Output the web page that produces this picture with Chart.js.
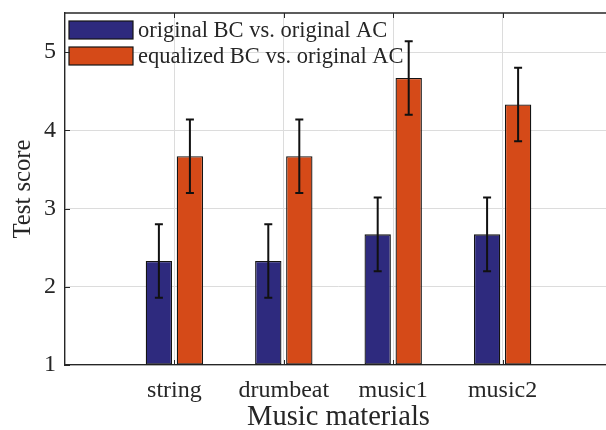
<!DOCTYPE html>
<html>
<head>
<meta charset="utf-8">
<script src="https://cdn.jsdelivr.net/npm/chart.js@4.4.1/dist/chart.umd.min.js"></script>
<style>
  html, body { margin: 0; padding: 0; background: #ffffff; overflow: hidden; }
  #wrap { position: relative; width: 620px; height: 430px; }
</style>
</head>
<body>
<div id="wrap"><canvas id="c"></canvas></div>
<script>
// ---- data ----
const categories = ['string', 'drumbeat', 'music1', 'music2'];
const seriesNames = ['original BC vs. original AC', 'equalized BC vs. original AC'];
const originalBC = [2.33, 2.33, 2.67, 2.67];
const equalizedBC = [3.67, 3.67, 4.67, 4.33];
const originalErr = [0.47, 0.47, 0.47, 0.47];
const equalizedErr = [0.47, 0.47, 0.47, 0.47];
const yTicks = [1, 2, 3, 4, 5];

// x axis spans 0..5 with categories at 1..4 (empty slots at both ends)
const xLabels = [''].concat(categories, ['']);
const pad = arr => [null].concat(arr, [null]);

const FONT = "'Liberation Serif', 'Times New Roman', serif";
const INK = '#262626';

const errorBars = {
  id: 'errorBars',
  afterDatasetsDraw(chart) {
    const ctx = chart.ctx;
    const y = chart.scales.y;
    ctx.save();
    ctx.strokeStyle = '#111111';
    ctx.lineWidth = 2;
    chart.data.datasets.forEach((ds, di) => {
      const meta = chart.getDatasetMeta(di);
      meta.data.forEach((el, i) => {
        const v = ds.data[i];
        const e = ds.errors[i];
        if (v == null || e == null) return;
        const x = el.x;
        const yt = y.getPixelForValue(v + e);
        const yb = y.getPixelForValue(v - e);
        const cap = 4;
        ctx.beginPath();
        ctx.moveTo(x, yt); ctx.lineTo(x, yb);
        ctx.moveTo(x - cap, yt); ctx.lineTo(x + cap, yt);
        ctx.moveTo(x - cap, yb); ctx.lineTo(x + cap, yb);
        ctx.stroke();
      });
    });
    ctx.restore();
  }
};

// legend drawn inside the axes (top-left), from the datasets' own labels and colours
const insideLegend = {
  id: 'insideLegend',
  afterDatasetsDraw(chart) {
    const ctx = chart.ctx;
    const a = chart.chartArea;
    ctx.save();
    ctx.font = '22.5px ' + FONT;
    ctx.textBaseline = 'middle';
    ctx.textAlign = 'left';
    chart.data.datasets.forEach((ds, i) => {
      const bx = a.left + 4, by = a.top + 8 + i * 26, bw = 64, bh = 18;
      ctx.fillStyle = ds.backgroundColor;
      ctx.fillRect(bx, by, bw, bh);
      ctx.strokeStyle = ds.borderColor;
      ctx.lineWidth = 1.2;
      ctx.strokeRect(bx, by, bw, bh);
      ctx.fillStyle = INK;
      ctx.fillText(ds.label, bx + bw + 5, by + bh / 2 + 1);
    });
    ctx.restore();
  }
};

const frame = {
  id: 'frame',
  afterDraw(chart) {
    const ctx = chart.ctx;
    const a = chart.chartArea;
    const xs = chart.scales.x, ys = chart.scales.y;
    ctx.save();
    ctx.strokeStyle = INK;
    ctx.lineWidth = 1.3;
    ctx.beginPath();
    ctx.moveTo(a.left, a.top); ctx.lineTo(a.right, a.top);
    ctx.stroke();
    ctx.lineWidth = 1;
    ctx.beginPath();
    for (let i = 1; i <= categories.length; i++) {
      const px = Math.round(xs.getPixelForTick(i)) + 0.5;
      ctx.moveTo(px, a.bottom); ctx.lineTo(px, a.bottom - 5);
      ctx.moveTo(px, a.top); ctx.lineTo(px, a.top + 5);
    }
    yTicks.forEach(t => {
      const py = Math.round(ys.getPixelForValue(t)) + 0.5;
      ctx.moveTo(a.left, py); ctx.lineTo(a.left + 5, py);
    });
    ctx.stroke();
    ctx.restore();
  }
};

new Chart(document.getElementById('c'), {
  type: 'bar',
  data: {
    labels: xLabels,
    datasets: [
      {
        label: seriesNames[0],
        data: pad(originalBC),
        errors: pad(originalErr),
        backgroundColor: '#2E2A7E',
        borderColor: '#141414',
        borderWidth: 1.3,
        borderSkipped: false,
        base: 1
      },
      {
        label: seriesNames[1],
        data: pad(equalizedBC),
        errors: pad(equalizedErr),
        backgroundColor: '#D54A18',
        borderColor: '#141414',
        borderWidth: 1.3,
        borderSkipped: false,
        base: 1
      }
    ]
  },
  options: {
    responsive: true,
    maintainAspectRatio: false,
    animation: false,
    devicePixelRatio: 1,
    categoryPercentage: 0.567,
    barPercentage: 0.85,
    layout: { padding: { top: 13, right: 8, left: 0, bottom: 0 } },
    plugins: {
      tooltip: { enabled: false },
      legend: { display: false }
    },
    scales: {
      x: {
        type: 'category',
        offset: false,
        grid: { color: '#dcdcdc', lineWidth: 1, drawTicks: false, offset: false },
        border: { color: INK, width: 1.3 },
        ticks: { color: INK, font: { family: FONT, size: 24 }, padding: 11, maxRotation: 0, autoSkip: false },
        title: { display: true, text: 'Music materials', color: INK, font: { family: FONT, size: 28.5 }, padding: { top: 0, bottom: -5 } },
        afterFit(s) { s.height = 65; s.paddingLeft = 0; s.paddingRight = 0; }
      },
      y: {
        min: 1,
        max: 5.5,
        grid: { color: '#dcdcdc', lineWidth: 1, drawTicks: false },
        border: { color: INK, width: 1.3 },
        afterBuildTicks(s) { s.ticks = yTicks.map(v => ({ value: v })); },
        ticks: { color: INK, font: { family: FONT, size: 24 }, padding: 9 },
        title: { display: true, text: 'Test score', color: INK, font: { family: FONT, size: 24.7 }, padding: { top: 9, bottom: 0 } },
        afterFit(s) { s.width = 65; s.paddingTop = 0; s.paddingBottom = 0; }
      }
    }
  },
  plugins: [insideLegend, errorBars, frame]
});
</script>
</body>
</html>
